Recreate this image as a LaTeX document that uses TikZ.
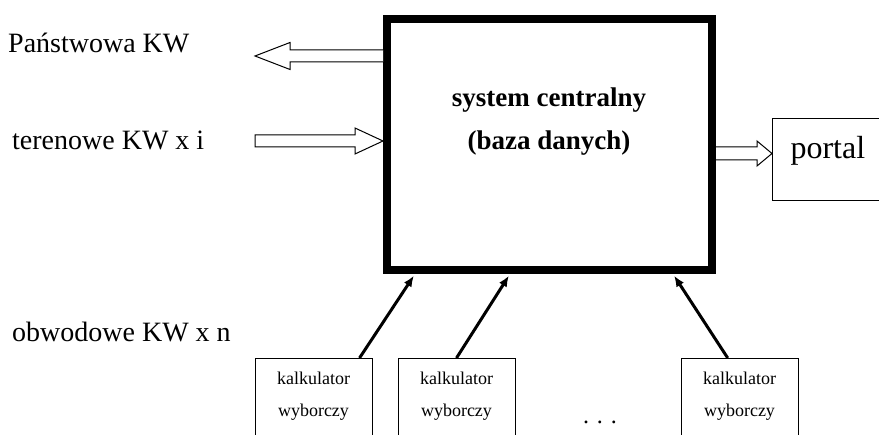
\documentclass[tikz,border=0pt]{standalone}
\usepackage{fontspec}
\setmainfont{Liberation Serif}
\usetikzlibrary{arrows.meta,calc}

\tikzset{
  napis/.style={anchor=base west, inner sep=0pt, font=\fontsize{28}{30}\selectfont},
  srodek/.style={anchor=base, inner sep=0pt, font=\bfseries\fontsize{27}{30}\selectfont},
  kalk/.style={draw, line width=1pt, anchor=north, align=center, text width=105pt,
    inner xsep=6pt, inner ysep=14pt, text depth=60pt, font=\fontsize{18}{32}\selectfont},
  blok/.style={draw, line width=1pt, fill=white, line join=miter},
  wejscie/.style={line width=3pt, -{Latex[length=11pt,width=9pt]}, shorten >=2pt},
}

\begin{document}
\begin{tikzpicture}[x=1pt,y=-1pt]
\useasboundingbox (0,0) rectangle (879,435);
\clip (0,0) rectangle (879,435);

% system centralny
\node[draw, line width=8pt, minimum width=325pt, minimum height=251pt] (central) at (549.5,144.5) {};
\node[srodek] (sys) at (549,107) {system centralny};
\node[srodek] (baza) at (549,150) {(baza danych)};

% opisy z lewej
\node[napis] (pkw) at (8,53) {Państwowa KW};
\node[napis] (tkw) at (12,150) {terenowe KW x i};
\node[napis] (okw) at (12,342) {obwodowe KW x n};

% portal
\node[draw, line width=1pt, anchor=north west, inner xsep=18pt, inner ysep=18pt,
  text height=22pt, text depth=24pt, font=\fontsize{32}{34}\selectfont] (portal) at (772,118) {portal};

% strzalki blokowe
\coordinate (pkwtip) at (255,56);
\draw[blok] (central.west |- 0,50) -- (290,50) -- (290,42.5) -- (pkwtip) -- (290,69.5) -- (290,62) -- (central.west |- 0,62);
\draw[blok] (255,135) -- (355,135) -- (355,128) -- (central.west |- 0,141) -- (355,154) -- (355,147) -- (255,147) -- cycle;
\draw[blok] (central.east |- 0,147) -- (757,147) -- (757,141) -- (portal.west |- 0,153.5) -- (757,166) -- (757,160) -- (central.east |- 0,160);

% kalkulatory
\node[kalk] (kalk1) at (313.5,358) {kalkulator\\wyborczy};
\node[kalk] (kalk2) at (456.5,358) {kalkulator\\wyborczy};
\node[kalk] (kalk3) at (739.5,358) {kalkulator\\wyborczy};
\node[font=\fontsize{24}{26}\selectfont] (dots) at (600,422) {. . .};

\draw[wejscie] ($(kalk1.north west)!0.89!(kalk1.north east)$) -- (central.south -| 415,0);
\draw[wejscie] (kalk2.north) -- (central.south -| 510,0);
\draw[wejscie] ($(kalk3.north west)!0.4!(kalk3.north east)$) -- (central.south -| 673,0);

\end{tikzpicture}
\end{document}
